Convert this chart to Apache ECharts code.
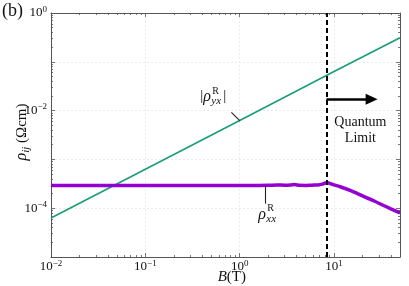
<!DOCTYPE html>
<html><head><meta charset="utf-8">
<script src="https://cdn.jsdelivr.net/npm/echarts@6/dist/echarts.min.js"></script>
<style>html,body{margin:0;padding:0;background:#fff}#c{width:409px;height:286px}</style>
</head><body><div id="c"></div>
<script>
// ---- data ----
const xMin = 0.01, xMax = 50;
const yMin = 1e-5, yMax = 1;
const xLabelTicks = [0.01, 0.1, 1, 10];
const xDecadeTicks = [0.01, 0.1, 1, 10];
const yLabelTicks = [1e-4, 1e-2, 1];
const yDecadeTicks = [1e-5, 1e-4, 1e-3, 1e-2, 1e-1, 1];
const rhoYXField = [0.01, 0.1, 1, 10, 50];
const rhoYX = [6.3e-5, 6.3e-4, 6.3e-3, 6.3e-2, 0.31];
const rhoXXField = [0.01, 0.03, 0.1, 0.3, 1, 1.5, 2, 2.5, 3, 3.5, 3.8, 4.3, 5, 5.8, 6.8, 7.5, 8.3, 10, 12, 15, 18, 22, 27, 33, 40, 50];
const rhoXX = [2.92e-4, 2.92e-4, 2.92e-4, 2.92e-4, 2.92e-4, 2.93e-4, 2.94e-4, 3.0e-4, 2.96e-4, 3.0e-4, 3.05e-4, 2.95e-4, 2.93e-4, 2.97e-4, 3.0e-4, 3.12e-4, 3.32e-4, 3.0e-4, 2.69e-4, 2.3e-4, 1.97e-4, 1.65e-4, 1.39e-4, 1.15e-4, 9.7e-5, 8.0e-5];
const quantumLimitB = 8.3;
const arrowEndB = 25;
const arrowY = 0.0171;

// ---- helpers ----
function minorTicks(lo, hi) {
  const out = [];
  for (let e = Math.floor(Math.log10(lo)); e <= Math.ceil(Math.log10(hi)); e++) {
    for (let k = 2; k <= 9; k++) {
      const v = parseFloat((k * Math.pow(10, e)).toPrecision(6));
      if (v > lo && v < hi) out.push(v);
    }
  }
  return out;
}
const SERIF = 'Liberation Serif';
const AX = '#555';
function expLabel(v) {
  const e = Math.round(Math.log10(v));
  return '{a|10}{e|' + (e < 0 ? '\u2212' + (-e) : e) + '}';
}
const labelRich = {
  a: { fontSize: 13, fontFamily: SERIF, color: '#111', lineHeight: 16 },
  e: { fontSize: 9, fontFamily: SERIF, color: '#111', verticalAlign: 'top', lineHeight: 9 }
};
function mkAxis(pos, min, max, major, labels, minor, isMinor, isX) {
  const a = {
    type: 'log', logBase: 10, min: min, max: max, position: pos, gridIndex: 0,
    axisLine: { show: !isMinor, onZero: false, lineStyle: { color: AX, width: 1 } },
    axisTick: { show: true, inside: true, length: isMinor ? 2 : 4,
      customValues: isMinor ? minor : major, lineStyle: { color: AX, width: 0.8 } },
    axisLabel: { show: false },
    splitLine: { show: false }
  };
  if (labels) {
    a.axisLabel = { show: true, customValues: labels, formatter: expLabel, rich: labelRich,
      margin: isX ? 2 : 4, fontFamily: SERIF };
    a.splitLine = { show: true, lineStyle: { color: '#e6e6e6', type: [2, 2], width: 0.8 } };
  }
  return a;
}
const xMinor = minorTicks(xMin, xMax);
const yMinor = minorTicks(yMin, yMax);

const chart = echarts.init(document.getElementById('c'), null, { renderer: 'canvas' });
const option = {
  animation: false,
  backgroundColor: '#fff',
  grid: { left: 51, top: 13, width: 349, height: 244, containLabel: false },
  xAxis: [
    mkAxis('bottom', xMin, xMax, xDecadeTicks, xLabelTicks, null, false, true),
    mkAxis('bottom', xMin, xMax, null, null, xMinor, true, true),
    mkAxis('top', xMin, xMax, xDecadeTicks, null, null, false, true),
    mkAxis('top', xMin, xMax, null, null, xMinor, true, true)
  ],
  yAxis: [
    mkAxis('left', yMin, yMax, yDecadeTicks, yLabelTicks, null, false, false),
    mkAxis('left', yMin, yMax, null, null, yMinor, true, false),
    mkAxis('right', yMin, yMax, yDecadeTicks, null, null, false, false),
    mkAxis('right', yMin, yMax, null, null, yMinor, true, false)
  ],
  series: [
    {
      type: 'line', name: 'rhoyx', xAxisIndex: 0, yAxisIndex: 0, showSymbol: false, symbol: 'none',
      data: rhoYXField.map((b, i) => [b, rhoYX[i]]),
      lineStyle: { color: '#1c9e78', width: 1.7 }, z: 3
    },
    {
      type: 'line', name: 'rhoxx', xAxisIndex: 0, yAxisIndex: 0, showSymbol: false, symbol: 'none', smooth: 0.3,
      data: rhoXXField.map((b, i) => [b, rhoXX[i]]),
      lineStyle: { color: '#9400d3', width: 3.5 }, z: 4,
      markLine: {
        silent: true, symbol: 'none', animation: false,
        label: { show: false },
        data: [
          { xAxis: quantumLimitB, lineStyle: { color: '#000', width: 2, type: [5, 3] } },
          [ { coord: [quantumLimitB, arrowY], symbol: 'none', lineStyle: { color: '#000', width: 2.6, type: 'solid' } },
            { coord: [arrowEndB, arrowY], symbol: 'triangle', symbolSize: [11, 12] } ],
          [ { coord: [0.816, 9.2e-3], symbol: 'none', lineStyle: { color: '#222', width: 1.1, type: 'solid' } },
            { coord: [1.0, 6.2e-3], symbol: 'none' } ],
          [ { coord: [1.87, 2.85e-4], symbol: 'none', lineStyle: { color: '#222', width: 1.1, type: 'solid' } },
            { coord: [1.87, 1.24e-4], symbol: 'none' } ]
        ]
      }
    }
  ]
};
chart.setOption(option);

// ---- annotations anchored to data coordinates ----
const px = (b, r) => chart.convertToPixel({ xAxisIndex: 0, yAxisIndex: 0 }, [b, r]);
function txt(x, y, text, size, italic, align) {
  return { type: 'text', x: x, y: y, z: 100, silent: true,
    style: { text: text, fontFamily: SERIF, fontSize: size, fontStyle: italic ? 'italic' : 'normal',
      fill: '#111', align: align || 'left', verticalAlign: 'middle' } };
}
const g = [];
// (b)
g.push(txt(2, 11, '(b)', 18, false, 'left'));
// y axis title
g.push({ type: 'text', x: 22, y: 132, rotation: Math.PI / 2, z: 100, silent: true,
  style: { text: '{r|\u03c1}{s|ij}{n| (\u03a9cm)}', align: 'center', verticalAlign: 'middle',
    rich: {
      r: { fontFamily: SERIF, fontSize: 16, fontStyle: 'italic', fill: '#111', lineHeight: 20 },
      s: { fontFamily: SERIF, fontSize: 11, fontStyle: 'italic', fill: '#111', verticalAlign: 'bottom', lineHeight: 12 },
      n: { fontFamily: SERIF, fontSize: 15, fill: '#111', lineHeight: 20 }
    } } });
// x axis title
const xt = px(1, yMin);
g.push({ type: 'text', x: xt[0] - 22, y: 277, z: 100, silent: true,
  style: { text: '{b|B}{n|(T)}', align: 'left', verticalAlign: 'middle',
    rich: { b: { fontFamily: SERIF, fontSize: 15, fontStyle: 'italic', fill: '#111' },
            n: { fontFamily: SERIF, fontSize: 15, fill: '#111' } } } });
// |rho_yx^R|
const a1 = px(0.816, 9.2e-3);
g.push(txt(a1[0] - 31, a1[1] - 16, '|', 15, false));
g.push(txt(a1[0] - 28, a1[1] - 16, '\u03c1', 16, true));
g.push(txt(a1[0] - 19, a1[1] - 21, 'R', 10, false));
g.push(txt(a1[0] - 20, a1[1] - 11, 'yx', 11, true));
g.push(txt(a1[0] - 8, a1[1] - 16, '|', 15, false));
// rho_xx^R
const a2 = px(1.87, 1.24e-4);
g.push(txt(a2[0] - 7, a2[1] + 11, '\u03c1', 16, true));
g.push(txt(a2[0] + 2, a2[1] + 5, 'R', 10, false));
g.push(txt(a2[0] + 1, a2[1] + 15, 'xx', 11, true));
// Quantum Limit
const a3 = px(quantumLimitB, arrowY);
g.push(txt(a3[0] + 34, a3[1] + 23, 'Quantum', 14, false, 'center'));
g.push(txt(a3[0] + 34, a3[1] + 39, 'Limit', 14, false, 'center'));
chart.setOption({ graphic: g });
</script></body></html>
